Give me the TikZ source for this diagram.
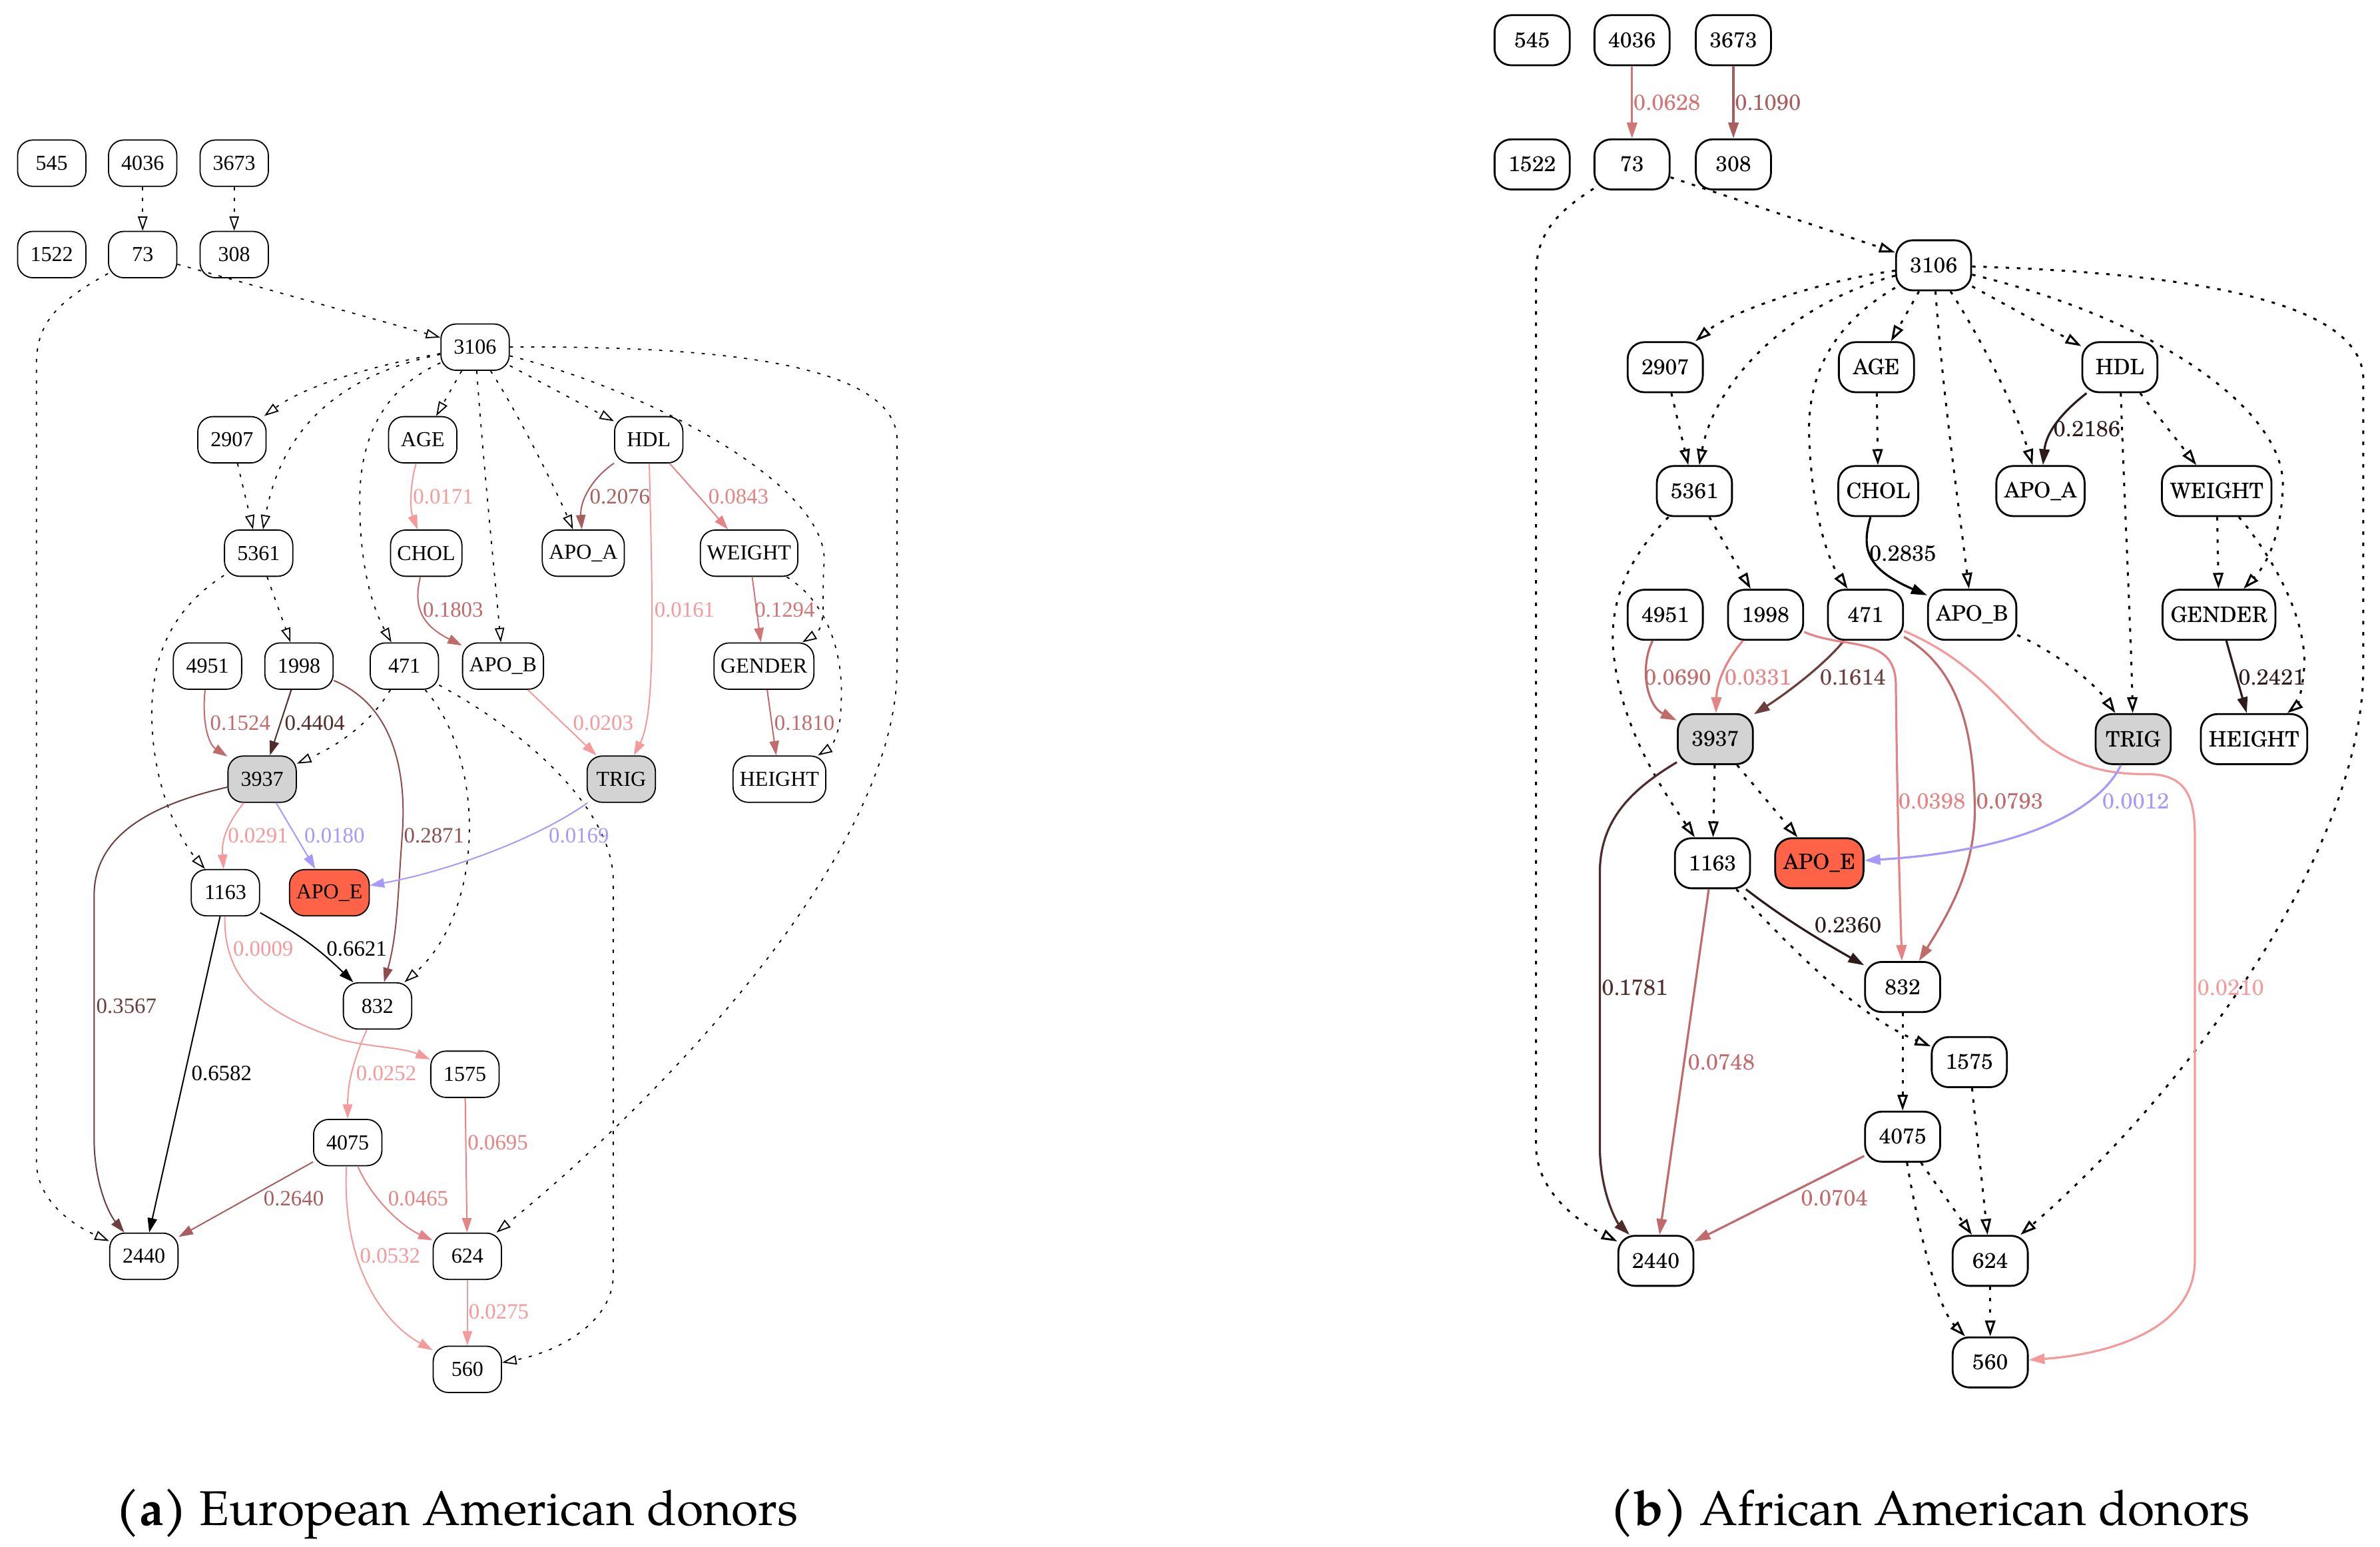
\documentclass[tikz,border=0pt]{standalone}
\usepackage{fontspec}
\setmainfont{Liberation Serif}
\newfontfamily\schfont{texgyreschola}[Extension=.otf,UprightFont=*-regular,BoldFont=*-bold]
\newfontfamily\capfont{texgyrepagella}[Extension=.otf,UprightFont=*-regular,BoldFont=*-bold]
\usetikzlibrary{arrows.meta}
\definecolor{wA}{HTML}{F49A9A}
\definecolor{wB}{HTML}{E48484}
\definecolor{wC}{HTML}{D07676}
\definecolor{wD}{HTML}{C06A6A}
\definecolor{wE}{HTML}{A85E5E}
\definecolor{wF}{HTML}{8E4E4E}
\definecolor{wG}{HTML}{6C3E3E}
\definecolor{wH}{HTML}{4E2C2C}
\definecolor{wI}{HTML}{2E1C1C}
\definecolor{blu}{HTML}{A898F8}
\definecolor{tomato}{HTML}{FF6347}
\definecolor{lgray}{HTML}{D3D3D3}

\begin{document}
\begin{tikzpicture}[x=0.02cm, y=-0.02cm,
  va/.style={draw, rounded corners=0.2cm, line width=0.45pt, minimum width=0.9cm, minimum height=0.61cm, inner xsep=2.5pt, inner ysep=1pt, font=\fontsize{8}{9}\selectfont},
  vb/.style={draw, rounded corners=0.22cm, line width=0.7pt, minimum width=0.99cm, minimum height=0.66cm, inner xsep=3pt, inner ysep=1pt, font=\schfont\fontsize{8}{9}\selectfont},
  depa/.style={line width=0.45pt, dash pattern=on 1.2pt off 2.8pt, -{Triangle[open, length=0.19cm, width=0.125cm]}},
  depb/.style={line width=0.75pt, dash pattern=on 1.3pt off 2.9pt, -{Triangle[open, length=0.21cm, width=0.135cm]}},
  efa/.style={line width=0.5pt, -{Triangle[length=0.19cm, width=0.125cm]}},
  efb/.style={line width=0.8pt, -{Triangle[length=0.21cm, width=0.135cm]}},
  wta/.style={inner sep=0pt, font=\fontsize{8.2}{9}\selectfont},
  wtb/.style={inner sep=0pt, font=\schfont\fontsize{8.2}{9}\selectfont},
  captext/.style={anchor=base, font=\capfont\fontsize{18.3}{22}\selectfont}]
\useasboundingbox (0,0) rectangle (1568,1019);

\foreach \n/\t/\x/\y/\f in {545/545/34.1/107.5/white, 4036/4036/94/107.5/white, 3673/3673/154.3/107.5/white,
  1522/1522/34.1/167.7/white, 73/73/94/167.7/white, 308/308/154.3/167.7/white, 3106/3106/313/228.7/white,
  2907/2907/152.8/289.7/white, AGE/AGE/278.5/289.7/white, HDL/HDL/427.4/289.7/white,
  5361/5361/170.4/364.4/white, CHOL/CHOL/280.8/364.4/white, APOA/APO\_A/384.3/364.4/white, WEIGHT/WEIGHT/493.5/364.4/white,
  4951/4951/136.7/438.8/white, 1998/1998/197/438.8/white, 471/471/266.4/438.8/white, APOB/APO\_B/331.4/438.8/white, GENDER/GENDER/503.3/438.8/white,
  3937/3937/172.7/513.3/lgray, TRIG/TRIG/409.3/513.3/lgray, HEIGHT/HEIGHT/513.5/513.3/white,
  1163/1163/148.5/588.1/white, APOE/APO\_E/217/588.1/tomato, 832/832/248.7/662.7/white, 1575/1575/306.3/707.7/white,
  4075/4075/229.1/752.7/white, 2440/2440/94.8/827.6/white, 624/624/307.9/827.6/white, 560/560/307.9/902.1/white}
  \node[va, fill=\f] (a\n) at (\x,\y) {\t};

\foreach \s/\t in {4036/73, 3673/308, 73/3106, 3106/AGE, 3106/HDL, 2907/5361, 5361/1998}
  \draw[depa] (a\s) -- (a\t);
\draw[depa] (a73) .. controls (35,200) and (24,215) .. (24,240) -- (24,765) .. controls (24,792) and (50,808) .. (a2440);
\draw[depa] (a3106) .. controls (240,242) and (200,255) .. (a2907);
\draw[depa] (a3106) .. controls (220,248) and (185,285) .. (a5361);
\draw[depa] (a3106) .. controls (255,255) and (237,285) .. (237,330) .. controls (237,380) and (248,405) .. (a471);
\draw[depa] (a3106) .. controls (318,300) and (326,380) .. (aAPOB);
\draw[depa] (a3106) .. controls (340,270) and (365,320) .. (aAPOA);
\draw[depa] (a3106) .. controls (430,258) and (545,320) .. (543,370) .. controls (541,395) and (545,413) .. (aGENDER);
\draw[depa] (a3106) .. controls (450,228) and (591,235) .. (591,290) -- (591,440) .. controls (591,560) and (440,720) .. (a624);
\draw[depa] (a5361) .. controls (115,400) and (100,430) .. (100,470) .. controls (100,520) and (120,555) .. (a1163);
\draw[depa] (a471) .. controls (245,475) and (225,490) .. (a3937);
\draw[depa] (a471) .. controls (320,500) and (320,600) .. (a832);
\draw[depa] (a471) .. controls (360,490) and (404,540) .. (404,580) -- (404,840) .. controls (404,870) and (370,890) .. (a560);
\draw[depa] (aWEIGHT) .. controls (550,400) and (556,440) .. (554,465) .. controls (554,482) and (548,492) .. (aHEIGHT);

\draw[efa, wA] (aAGE) .. controls (270,320) and (270,335) .. (aCHOL);
\draw[efa, wE] (aHDL) .. controls (390,315) and (382,330) .. (aAPOA);
\draw[efa, wB] (aHDL) -- (aWEIGHT);
\draw[efa, wA] (aHDL) .. controls (430,400) and (432,470) .. (aTRIG);
\draw[efa, wD] (aCHOL) .. controls (272,400) and (278,412) .. (aAPOB);
\draw[efa, wC] (aWEIGHT) -- (aGENDER);
\draw[efa, wD] (aGENDER) -- (aHEIGHT);
\draw[efa, wA] (aAPOB) -- (aTRIG);
\draw[efa, wD] (a4951) .. controls (133,475) and (137,490) .. (a3937);
\draw[efa, wH] (a1998) -- (a3937);
\draw[efa, wF] (a1998) .. controls (260,465) and (268,510) .. (265,550) .. controls (262,590) and (262,615) .. (a832);
\draw[efa, wA] (a3937) .. controls (148,545) and (146,555) .. (a1163);
\draw[efa, blu] (a3937) -- (aAPOE);
\draw[efa, wG] (a3937) .. controls (100,530) and (62,550) .. (62,590) -- (62,750) .. controls (62,780) and (72,800) .. (a2440);
\draw[efa, blu] (aTRIG) .. controls (350,555) and (290,575) .. (aAPOE);
\draw[efa, black] (a1163) .. controls (190,612) and (205,620) .. (a832);
\draw[efa, black] (a1163) -- (a2440);
\draw[efa, wA] (a1163) .. controls (147,650) and (180,670) .. (225,685) .. controls (245,690) and (265,690) .. (a1575);
\draw[efa, wA] (a832) .. controls (232,700) and (229,715) .. (a4075);
\draw[efa, wB] (a1575) -- (a624);
\draw[efa, wE] (a4075) -- (a2440);
\draw[efa, wB] (a4075) .. controls (245,790) and (265,808) .. (a624);
\draw[efa, wA] (a4075) .. controls (225,830) and (250,870) .. (a560);
\draw[efa, wA] (a624) -- (a560);

\foreach \v/\c/\x/\y in {0171/wA/292/327, 2076/wE/408.4/327, 0843/wB/486.5/327, 1803/wD/298.5/401.6,
  0161/wA/451/401.6, 1294/wC/517/401.6, 1524/wD/158.3/476.3, 4404/wH/207.4/476.3, 0203/wA/397.4/476.3,
  1810/wD/530/476.3, 0291/wA/170/550.5, 0180/blu/220.4/550.5, 2871/wF/286/550.5, 0169/blu/381.4/550.5,
  0009/wA/173.4/625.1, 6621/black/235/625.1, 3567/wG/83.3/662.7, 6582/black/146/707.3, 0252/wA/254.5/707.3,
  0695/wB/328/752.7, 2640/wE/193.5/789.6, 0465/wB/275.5/789.6, 0532/wA/257/827.2, 0275/wA/328.6/864.1}
  \node[wta, text=\c] (la\v) at (\x,\y) {0.\v};

\foreach \n/\t/\x/\y/\f in {545/545/1009.4/26.5/white, 4036/4036/1075.2/26.5/white, 3673/3673/1142/26.5/white,
  1522/1522/1009.4/108.3/white, 73/73/1075.2/108.3/white, 308/308/1142/108.3/white, 3106/3106/1273.9/174.8/white,
  2907/2907/1097.1/241.9/white, AGE/AGE/1236.2/241.9/white, HDL/HDL/1396.6/241.9/white,
  5361/5361/1116.3/323.5/white, CHOL/CHOL/1237.4/323.5/white, APOA/APO\_A/1344.3/323.5/white, WEIGHT/WEIGHT/1460.4/323.5/white,
  4951/4951/1097.1/405/white, 1998/1998/1163.2/405/white, 471/471/1229/405/white, APOB/APO\_B/1299.3/405/white, GENDER/GENDER/1461.9/405/white,
  3937/3937/1130.1/486.9/lgray, TRIG/TRIG/1405.4/486.9/lgray, HEIGHT/HEIGHT/1485/486.9/white,
  1163/1163/1128.2/568.7/white, APOE/APO\_E/1198.6/568.7/tomato, 832/832/1253.5/650.2/white, 1575/1575/1297.4/699.7/white,
  4075/4075/1253.5/748.8/white, 2440/2440/1090.9/830.6/white, 624/624/1311.2/830.6/white, 560/560/1311.2/897.5/white}
  \node[vb, fill=\f] (b\n) at (\x,\y) {\t};

\foreach \s/\t in {73/3106, 3106/AGE, 3106/HDL, 2907/5361, AGE/CHOL, 5361/1998, HDL/WEIGHT, WEIGHT/GENDER,
  3937/1163, 3937/APOE, 832/4075, 1575/624, 4075/624, 624/560}
  \draw[depb] (b\s) -- (b\t);
\draw[depb] (b73) .. controls (1025,140) and (1012,155) .. (1012,180) -- (1012,755) .. controls (1012,785) and (1040,805) .. (b2440);
\draw[depb] (b3106) .. controls (1200,185) and (1140,205) .. (b2907);
\draw[depb] (b3106) .. controls (1180,200) and (1130,250) .. (b5361);
\draw[depb] (b3106) .. controls (1205,215) and (1190,250) .. (1192,290) .. controls (1194,340) and (1205,370) .. (b471);
\draw[depb] (b3106) .. controls (1280,260) and (1290,330) .. (bAPOB);
\draw[depb] (b3106) .. controls (1300,215) and (1325,260) .. (bAPOA);
\draw[depb] (b3106) .. controls (1420,210) and (1505,270) .. (1504,320) .. controls (1503,350) and (1495,370) .. (bGENDER);
\draw[depb] (b3106) .. controls (1450,180) and (1557,200) .. (1557,250) -- (1557,440) .. controls (1557,560) and (1440,720) .. (b624);
\draw[depb] (b5361) .. controls (1070,370) and (1060,400) .. (1063,430) .. controls (1068,480) and (1095,520) .. (b1163);
\draw[depb] (bHDL) .. controls (1400,340) and (1404,420) .. (bTRIG);
\draw[depb] (bWEIGHT) .. controls (1500,370) and (1520,410) .. (1518,440) .. controls (1517,455) and (1513,465) .. (bHEIGHT);
\draw[depb] (bAPOB) .. controls (1355,430) and (1380,450) .. (bTRIG);
\draw[depb] (b1163) .. controls (1180,625) and (1225,670) .. (b1575);
\draw[depb] (b4075) .. controls (1262,800) and (1275,860) .. (b560);

\draw[efb, wC] (b4036) -- (b73);
\draw[efb, wE] (b3673) -- (b308);
\draw[efb, wI] (bHDL) .. controls (1358,272) and (1348,285) .. (bAPOA);
\draw[efb, black] (bCHOL) .. controls (1226,362) and (1230,375) .. (bAPOB);
\draw[efb, wI] (bGENDER) -- (bHEIGHT);
\draw[efb, wD] (b4951) .. controls (1080,440) and (1085,465) .. (b3937);
\draw[efb, wB] (b1998) .. controls (1137,435) and (1131,450) .. (b3937);
\draw[efb, wG] (b471) .. controls (1200,440) and (1175,458) .. (b3937);
\draw[efb, wB] (b1998) .. controls (1215,428) and (1248,418) .. (1249,450) .. controls (1250,540) and (1252,600) .. (b832);
\draw[efb, wD] (b471) .. controls (1290,440) and (1300,480) .. (1301,530) .. controls (1302,570) and (1285,600) .. (b832);
\draw[efb, wA] (b471) .. controls (1300,435) and (1320,465) .. (1345,488) .. controls (1370,508) and (1395,510) .. (1415,510) .. controls (1440,510) and (1446,525) .. (1446,550) -- (1446,830) .. controls (1446,880) and (1380,893) .. (b560);
\draw[efb, blu] (bTRIG) .. controls (1385,530) and (1340,560) .. (bAPOE);
\draw[efb, wH] (b3937) .. controls (1075,520) and (1054,540) .. (1054,575) -- (1054,755) .. controls (1054,785) and (1065,805) .. (b2440);
\draw[efb, wD] (b1163) -- (b2440);
\draw[efb, wI] (b1163) .. controls (1175,605) and (1200,620) .. (b832);
\draw[efb, wD] (b4075) -- (b2440);

\foreach \v/\c/\x/\y in {0628/wC/1098.2/67.7, 1090/wE/1164.7/67.7, 2186/wI/1374.9/282.5, 2835/black/1253.6/364.7,
  2421/wI/1496.7/446.3, 0690/wD/1105.3/446.3, 0331/wB/1158.2/446.3, 1614/wG/1220.7/446.3,
  0398/wB/1272.8/528, 0793/wD/1324/528, 0012/blu/1407/528, 2360/wI/1217.5/609.5,
  1781/wH/1077/650.6, 0210/wA/1469.6/650.6, 0748/wD/1134/699.7, 0704/wD/1208.5/789.5}
  \node[wtb, text=\c] (lb\v) at (\x,\y) {0.\v};

\node[captext] (capa) at (301,1005) {\textbf{(a)} European American donors};
\node[captext] (capb) at (1271.5,1005) {\textbf{(b)} African American donors};
\end{tikzpicture}
\end{document}
